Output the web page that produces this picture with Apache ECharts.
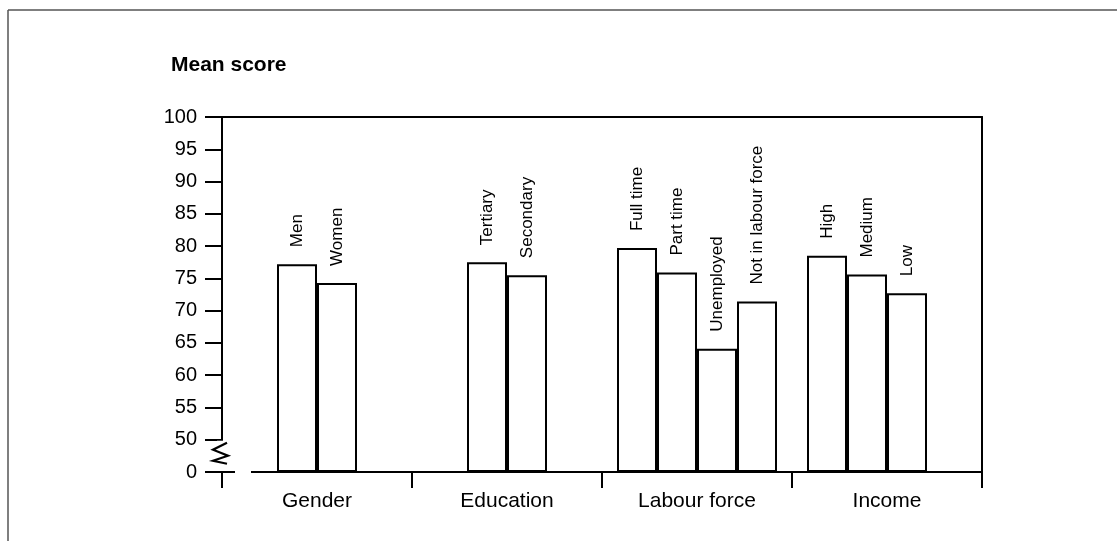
<!DOCTYPE html>
<html><head><meta charset="utf-8">
<script src="https://cdn.jsdelivr.net/npm/echarts@6/dist/echarts.min.js"></script>
<style>html,body{margin:0;padding:0;background:#fff}#c{width:1117px;height:541px}</style>
</head><body><div id="c"></div>
<script>
// ---- data ----
const groups = ['Gender', 'Education', 'Labour force', 'Income'];
const genderLabels = ['Men', 'Women'];
const genderValues = [77.2, 74.3];
const educationLabels = ['Tertiary', 'Secondary'];
const educationValues = [77.5, 75.5];
const labourLabels = ['Full time', 'Part time', 'Unemployed', 'Not in labour force'];
const labourValues = [79.7, 75.9, 64.1, 71.4];
const incomeLabels = ['High', 'Medium', 'Low'];
const incomeValues = [78.5, 75.6, 72.7];
// axis is broken: the lowest tick (axis value 45) is labelled "0"
const yTickValues = [45, 50, 55, 60, 65, 70, 75, 80, 85, 90, 95, 100];
const yTickLabels = ['0', '50', '55', '60', '65', '70', '75', '80', '85', '90', '95', '100'];

// ---- layout ----
const FONT = 'Liberation Sans, Arial, sans-serif';
const GRID = { left: 222, right: 135, top: 117, bottom: 69 };

function item(v, lab) { return v == null ? null : { value: v, lab: lab }; }

const barStyle = { color: '#ffffff', borderColor: '#000000', borderWidth: 2 };
const labelStyle = {
  show: true, position: 'top', rotate: 90, align: 'left', verticalAlign: 'middle',
  distance: 17, fontSize: 17, color: '#000', fontFamily: FONT,
  formatter: p => p.data && p.data.lab ? p.data.lab : ''
};

const series = [];
// two-bar groups (Gender, Education) on hidden/top category axis
for (let i = 0; i < 2; i++) {
  series.push({
    type: 'bar', xAxisIndex: 1, yAxisIndex: 0, barWidth: 40, barGap: '0%',
    itemStyle: barStyle, label: labelStyle, silent: true,
    data: [item(genderValues[i], genderLabels[i]), item(educationValues[i], educationLabels[i]), null, null]
  });
}
// four-slot groups (Labour force, Income)
for (let i = 0; i < 4; i++) {
  series.push({
    type: 'bar', xAxisIndex: 0, yAxisIndex: 0, barWidth: 40, barGap: '0%',
    itemStyle: barStyle, label: labelStyle, silent: true,
    data: [null, null, item(labourValues[i], labourLabels[i]), item(incomeValues[i], incomeLabels[i])]
  });
}

const chart = echarts.init(document.getElementById('c'), null, { renderer: 'canvas' });
const option = {
  animation: false,
  backgroundColor: '#fff',
  title: { text: 'Mean score', left: 166, top: 50,
    textStyle: { fontSize: 21, fontWeight: 'bold', color: '#000', fontFamily: FONT } },
  grid: GRID,
  xAxis: [
    { type: 'category', data: groups, position: 'bottom',
      axisLine: { show: true, lineStyle: { color: '#000', width: 2 } },
      axisTick: { show: true, length: 16, interval: 0, lineStyle: { color: '#000', width: 2 } },
      axisLabel: { fontSize: 21, margin: 19, color: '#000', fontFamily: FONT, interval: 0 },
      splitLine: { show: false } },
    { type: 'category', data: groups, position: 'top',
      axisLine: { show: true, lineStyle: { color: '#000', width: 2 } },
      axisTick: { show: false }, axisLabel: { show: false }, splitLine: { show: false } }
  ],
  yAxis: [
    { type: 'value', min: 45, max: 100, interval: 5, startValue: 45,
      axisLine: { show: true, lineStyle: { color: '#000', width: 2 } },
      axisTick: { show: true, length: 17, lineStyle: { color: '#000', width: 2 } },
      axisLabel: { fontSize: 20, margin: 25, color: '#000', fontFamily: FONT,
        formatter: v => { const k = yTickValues.indexOf(v); return k >= 0 ? yTickLabels[k] : ''; } },
      splitLine: { show: false } },
    { type: 'value', min: 45, max: 100, interval: 5, position: 'right',
      axisLine: { show: true, lineStyle: { color: '#000', width: 2 } },
      axisTick: { show: false }, axisLabel: { show: false }, splitLine: { show: false } }
  ],
  series: series
};
chart.setOption(option);

// axis-break decoration, positioned from the axis scale
const y50 = chart.convertToPixel({ yAxisIndex: 0 }, 50);
const y45 = chart.convertToPixel({ yAxisIndex: 0 }, 45);
const L = GRID.left;
chart.setOption({
  graphic: [
    { type: 'rect', z: 100, shape: { x: L - 5, y: y50 + 1, width: 10, height: (y45 - y50) - 2 }, style: { fill: '#fff' } },
    { type: 'rect', z: 100, shape: { x: L + 13, y: y45 - 3, width: 16, height: 6 }, style: { fill: '#fff' } },
    { type: 'polyline', z: 101, shape: { points: [[L + 5, y50 + 3], [L - 9, y50 + 10], [L + 6, y50 + 16], [L - 9, y50 + 21], [L + 5, y50 + 24]] },
      style: { stroke: '#000', lineWidth: 2.2, fill: null } },
    { type: 'line', z: 101, shape: { x1: 8, y1: 10, x2: 1117, y2: 10 }, style: { stroke: '#555', lineWidth: 1.5 } },
    { type: 'line', z: 101, shape: { x1: 8, y1: 10, x2: 8, y2: 541 }, style: { stroke: '#555', lineWidth: 1.5 } }
  ]
});
</script></body></html>
